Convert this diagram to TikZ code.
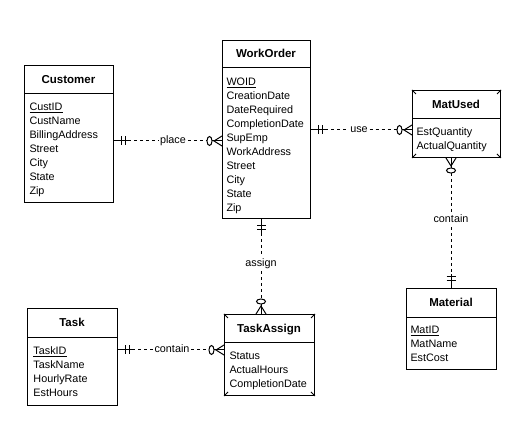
\documentclass[tikz,border=0pt]{standalone}
\usepackage{fontspec}
\setmainfont{Liberation Sans}
\usetikzlibrary{calc}
\newcommand\attfont{\fontsize{10.8}{14}\selectfont}
\newcommand\hdfont{\fontsize{11.5}{14}\selectfont\bfseries}
\tikzset{
  ent/.style={draw, anchor=north west, inner sep=0pt},
  att/.style={anchor=base west, inner sep=0pt, font=\attfont},
  hd/.style={anchor=base, inner sep=0pt, font=\hdfont},
  rel/.style={inner xsep=1.5pt, inner ysep=1.5pt, text height=5.6pt, text depth=0pt, font=\attfont},
  relv/.style={inner xsep=1.5pt, inner ysep=4pt, text height=5.6pt, text depth=0pt, font=\attfont},
  dl/.style={dash pattern=on 3pt off 3pt},
  onemk/.pic={\draw (0,0)--(14,0); \draw (7,-4.5)--(7,4.5); \draw (11,-4.5)--(11,4.5);},
  zmany/.pic={\draw (0,-5)--(8,0)--(0,5); \draw (0,0)--(10,0); \draw (12.5,0) ellipse [x radius=2.5, y radius=4.5];}
}
\newcommand\weakcorners[1]{%
  \draw (#1.north west) -- ++(4,4);
  \draw (#1.north east) -- ++(-4,4);
  \draw (#1.south west) -- ++(4,-4);
  \draw (#1.south east) -- ++(-4,-4);}
\begin{document}
\begin{tikzpicture}[x=1pt, y=-1pt, line width=1pt]
\useasboundingbox[fill=white] (0,0) rectangle (531,427);

% Customer
\node[ent, minimum width=89pt, minimum height=137pt] (cust) at (24,65) {};
\draw (cust.west |- 0,94) -- (cust.east |- 0,94);
\node[hd] (custH) at (68.5,84) {Customer};
\foreach \t [count=\i from 0] in {\underline{CustID},CustName,BillingAddress,Street,City,State,Zip}
  \node[att] (cust-\i) at (29,111+14*\i) {\t};

% WorkOrder
\node[ent, minimum width=88pt, minimum height=178pt] (wo) at (222,40) {};
\draw (wo.west |- 0,68) -- (wo.east |- 0,68);
\node[hd] (woH) at (266,58) {WorkOrder};
\foreach \t [count=\i from 0] in {\underline{WOID},CreationDate,DateRequired,CompletionDate,SupEmp,WorkAddress,Street,City,State,Zip}
  \node[att] (wo-\i) at (226,86+14*\i) {\t};

% MatUsed
\node[ent, minimum width=88pt, minimum height=67pt] (mu) at (412,90) {};
\draw (mu.west |- 0,119) -- (mu.east |- 0,119);
\weakcorners{mu}
\node[hd] (muH) at (456,109) {MatUsed};
\foreach \t [count=\i from 0] in {EstQuantity,ActualQuantity}
  \node[att] (mu-\i) at (416,136+14*\i) {\t};

% Material
\node[ent, minimum width=90pt, minimum height=81pt] (mat) at (406,288) {};
\draw (mat.west |- 0,318) -- (mat.east |- 0,318);
\node[hd] (matH) at (451,307) {Material};
\foreach \t [count=\i from 0] in {\underline{MatID},MatName,EstCost}
  \node[att] (mat-\i) at (410,334+14*\i) {\t};

% Task
\node[ent, minimum width=90pt, minimum height=97pt] (task) at (27,308) {};
\draw (task.west |- 0,338) -- (task.east |- 0,338);
\node[hd] (taskH) at (72,327) {Task};
\foreach \t [count=\i from 0] in {\underline{TaskID},TaskName,HourlyRate,EstHours}
  \node[att] (task-\i) at (33,355+14*\i) {\t};

% TaskAssign
\node[ent, minimum width=90pt, minimum height=81pt] (ta) at (224,314) {};
\draw (ta.west |- 0,343) -- (ta.east |- 0,343);
\weakcorners{ta}
\node[hd] (taH) at (269,332.5) {TaskAssign};
\foreach \t [count=\i from 0] in {Status,ActualHours,CompletionDate}
  \node[att] (ta-\i) at (229,360+14*\i) {\t};

% relationship labels
\node[rel] (placeL) at (173,141) {place};
\node[rel] (useL) at (359,130) {use};
\node[relv] (c2L) at (451,220) {contain};
\node[relv] (asL) at (261,264) {assign};
\node[rel] (c1L) at (172,350) {contain};

% place
\coordinate (pA) at (cust.east |- placeL);
\coordinate (pB) at (wo.west |- placeL);
\pic at (pA) {onemk};
\pic[rotate=180] at (pB) {zmany};
\draw[dl] ($(pA)+(14,0)$) -- (placeL.west);
\draw[dl] (placeL.east) -- ($(pB)+(-15,0)$);

% use
\coordinate (uA) at (wo.east |- useL);
\coordinate (uB) at (mu.west |- useL);
\pic at (uA) {onemk};
\pic[rotate=180] at (uB) {zmany};
\draw[dl] ($(uA)+(14,0)$) -- (useL.west);
\draw[dl] (useL.east) -- ($(uB)+(-15,0)$);

% contain (MatUsed - Material)
\coordinate (cA) at (c2L |- mat.north);
\coordinate (cB) at (c2L |- mu.south);
\pic[rotate=90] at (cA) {onemk};
\pic[rotate=-90] at (cB) {zmany};
\draw[dl] ($(cB)+(0,15)$) -- (c2L.north);
\draw[dl] (c2L.south) -- ($(cA)+(0,-14)$);

% assign
\coordinate (aA) at (asL |- wo.south);
\coordinate (aB) at (asL |- ta.north);
\pic[rotate=-90] at (aA) {onemk};
\pic[rotate=90] at (aB) {zmany};
\draw[dl] ($(aA)+(0,14)$) -- (asL.north);
\draw[dl] (asL.south) -- ($(aB)+(0,-15)$);

% contain (Task - TaskAssign)
\coordinate (tA) at (task.east |- c1L);
\coordinate (tB) at (ta.west |- c1L);
\pic at (tA) {onemk};
\pic[rotate=180] at (tB) {zmany};
\draw[dl] ($(tA)+(14,0)$) -- (c1L.west);
\draw[dl] (c1L.east) -- ($(tB)+(-15,0)$);
\end{tikzpicture}
\end{document}
